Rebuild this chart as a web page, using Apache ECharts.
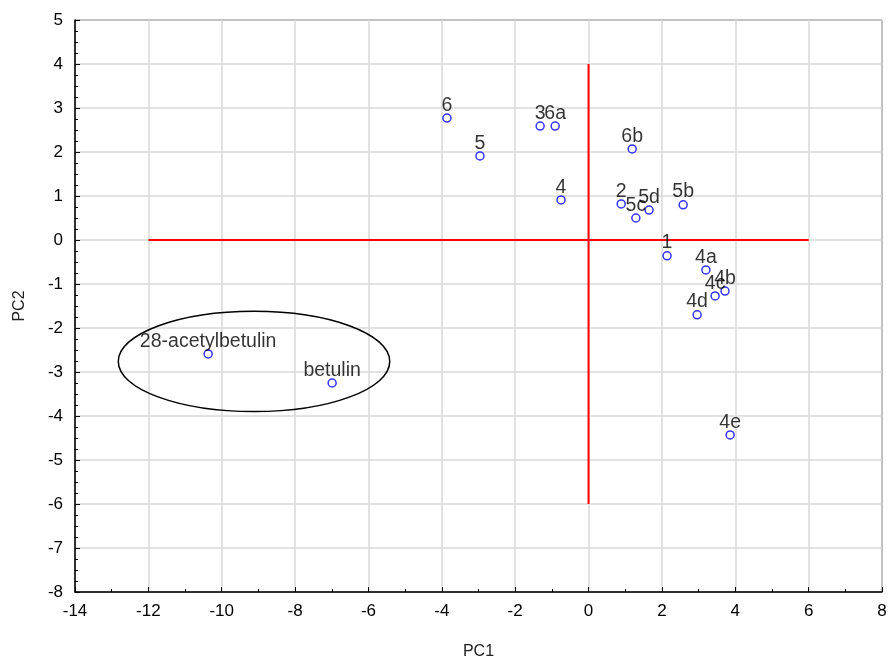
<!DOCTYPE html>
<html lang="en">
<head>
    <meta charset="UTF-8">
    <title>PCA</title>
    <style>
        html, body { margin: 0; padding: 0; background: #fff; }
        #main { width: 890px; height: 659px; }
    </style>
</head>
<body>
<div id="main"></div>
<script src="https://cdn.jsdelivr.net/npm/echarts@6/dist/echarts.min.js"></script>
<script>
    // 样品名称与主成分得分
    var names = ['6', '5', '3', '6a', '4', '6b', '2', '5c', '5d', '5b', '1', '4a', '4c', '4b', '4d', '4e', '28-acetylbetulin', 'betulin'];
    var pc1 = [-3.86, -2.96, -1.32, -0.91, -0.75, 1.19, 0.89, 1.29, 1.65, 2.58, 2.14, 3.20, 3.45, 3.72, 2.96, 3.86, -10.37, -6.99];
    var pc2 = [2.77, 1.91, 2.59, 2.59, 0.91, 2.07, 0.82, 0.50, 0.68, 0.80, -0.36, -0.68, -1.27, -1.16, -1.70, -4.43, -2.59, -3.25];

    // 红色参考线
    var hLineX = [-12, 6];
    var vLineY = [-6, 4];
    // 椭圆 (中心, 半轴)
    var ellipseCenter = [-9.12, -2.76];
    var ellipseRadius = [3.7, 1.14];

    var points = [];
    for (var i = 0; i < names.length; i++) {
        points.push({ value: [pc1[i], pc2[i]], name: names[i] });
    }

    var font = 'Arial, "Liberation Sans", sans-serif';
    var myChart = echarts.init(document.getElementById('main'));
    var option = {
        animation: false,
        grid: {
            left: 75, right: 8, top: 20, bottom: 67, show: true, borderColor: '#000', borderWidth: 1,
            containLabel: false, outerBoundsMode: 'none'
        },
        xAxis: {
            type: 'value', min: -14, max: 8, interval: 2,
            name: 'PC1', nameLocation: 'middle', nameGap: 52,
            nameTextStyle: { color: '#222', fontSize: 16, fontFamily: font },
            axisLine: { onZero: false, lineStyle: { color: '#000', width: 1.5 } },
            axisTick: { inside: true, length: 5, lineStyle: { color: '#000' } },
            minorTick: { show: true, splitNumber: 2, length: 3, lineStyle: { color: '#000' } },
            axisLabel: { color: '#000', fontSize: 17, fontFamily: font, margin: 11 },
            splitLine: { lineStyle: { color: '#d9d9d9', width: 1.5 } }
        },
        yAxis: {
            type: 'value', min: -8, max: 5, interval: 1,
            name: 'PC2', nameLocation: 'middle', nameGap: 47,
            nameTextStyle: { color: '#222', fontSize: 16, fontFamily: font },
            axisLine: { onZero: false, lineStyle: { color: '#000', width: 1.5 } },
            axisTick: { inside: true, length: 5, lineStyle: { color: '#000' } },
            minorTick: { show: true, splitNumber: 4, length: 3, lineStyle: { color: '#000' } },
            axisLabel: { color: '#000', fontSize: 17, fontFamily: font, margin: 12 },
            splitLine: { lineStyle: { color: '#d9d9d9', width: 1.5 } }
        },
        series: [
            {
                type: 'line', data: [[hLineX[0], 0], [hLineX[1], 0]], symbol: 'none',
                lineStyle: { color: '#ff0000', width: 2 }, z: 3
            },
            {
                type: 'line', data: [[0, vLineY[0]], [0, vLineY[1]]], symbol: 'none',
                lineStyle: { color: '#ff0000', width: 2 }, z: 3
            },
            {
                type: 'scatter', data: points, symbol: 'circle', symbolSize: 8,
                itemStyle: { color: '#fff', borderColor: '#0000ff', borderWidth: 1.5 },
                label: {
                    show: true, position: 'top', distance: -2, formatter: '{b}',
                    color: '#000', fontSize: 19.5, fontFamily: font
                },
                z: 5
            }
        ]
    };
    myChart.setOption(option);

    // 椭圆用坐标系换算出像素位置
    var c = myChart.convertToPixel({ gridIndex: 0 }, ellipseCenter);
    var e = myChart.convertToPixel({ gridIndex: 0 }, [ellipseCenter[0] + ellipseRadius[0], ellipseCenter[1] + ellipseRadius[1]]);
    myChart.setOption({
        graphic: [{
            type: 'ellipse', z: 4,
            shape: { cx: c[0], cy: c[1], rx: Math.abs(e[0] - c[0]), ry: Math.abs(e[1] - c[1]) },
            style: { fill: 'none', stroke: '#000', lineWidth: 1.5 }
        }]
    });
</script>
</body>
</html>
